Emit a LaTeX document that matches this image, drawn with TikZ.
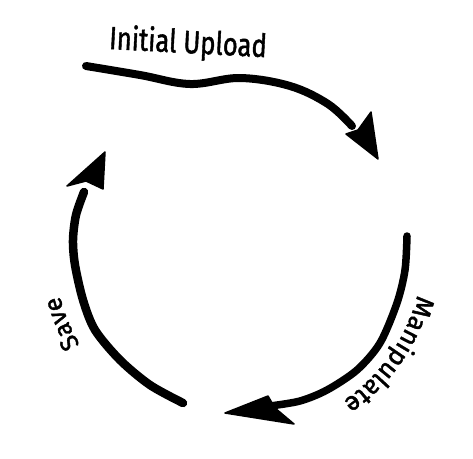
\documentclass[tikz,border=0pt]{standalone}
\usepackage{fontspec}
\newfontfamily\hand{Fira Sans}[FakeBold=1.6]
\usetikzlibrary{decorations.text}
\begin{document}
\begin{tikzpicture}[x=1pt,y=-1pt,
  stroke/.style={line width=8pt, line cap=round, line join=round},
  head/.style={fill=black, draw=black, line width=1.5pt, line join=round},
  label/.style={font=\hand\fontsize{32}{36}\selectfont}]
\useasboundingbox (0,0) rectangle (473,458);
\fill[white] (0,0) rectangle (473,458);
\coordinate (hub) at (240,250);

% Initial upload: wavy stroke across the top
\draw[stroke] plot[smooth, tension=0.6] coordinates
  {(86,66) (140,75) (190,84) (240,78) (290,86) (328,104) (352,126)};
\filldraw[head] (378,159) -- (346,134) -- (358,130) -- (371,112) -- cycle;
\node[label, rotate=-3, xscale=0.8] (upload) at (188,44) {Initial Upload};

% Manipulate: right-hand arc down to the bottom
\draw[stroke, line width=7.5pt] plot[smooth] coordinates
  {(407,236) (405,270) (397,303) (380,343) (357,370) (327,390) (300,401) (270,406)};
\filldraw[head] (225,413) -- (268,396) -- (275,408) -- (294,424) -- cycle;
\path[decorate, decoration={text along path, text align=center,
    text={|\hand\fontsize{26}{30}\selectfont|Manipulate}}]
  (hub) ++(5:183) arc[start angle=5, end angle=65, radius=183];

% Save: left-hand arc back up
\draw[stroke, line width=8.5pt] plot[smooth] coordinates
  {(183,403) (150,385) (120,360) (95,330) (83,300) (75,265) (73,240) (76,215) (84,192)};
\filldraw[head] (105,152) -- (67,186) -- (86,181) -- (103,189) -- cycle;
\path[decorate, decoration={text along path, text align=center,
    text={|\hand\fontsize{25}{28}\selectfont|Save}}]
  (hub) ++(130:186) arc[start angle=130, end angle=185, radius=186];
\end{tikzpicture}
\end{document}
